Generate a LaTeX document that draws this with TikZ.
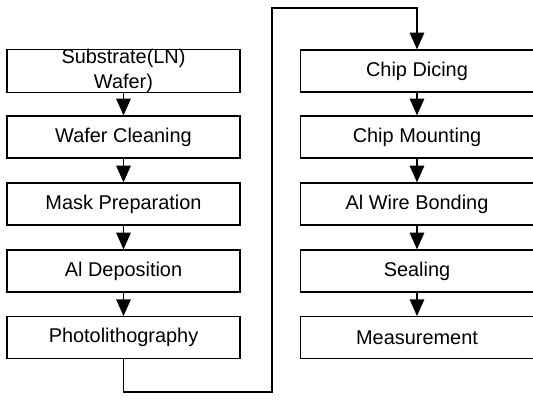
\documentclass[tikz,border=0pt]{standalone}
\usepackage{fontspec}
\setmainfont{Liberation Sans}
\usetikzlibrary{arrows.meta}

\begin{document}
\begin{tikzpicture}
        \useasboundingbox (0,0) rectangle (15.99,12.15);
        \tikzset{
            stepbox/.style={draw, line width=1pt, minimum width=6.99cm, minimum height=1.26cm, inner sep=0pt,
                align=center, font=\fontsize{17}{21}\selectfont},
            flow/.style={line width=1.5pt, -{Triangle[length=0.5cm, width=0.43cm]}}
        }

        % Left column
        \node[stepbox] (sub) at (3.705,10.02) {Substrate(LN)\\Wafer)};
        \node[stepbox] (clean) at (3.705,8.04) {Wafer Cleaning};
        \node[stepbox] (mask) at (3.705,6.03) {Mask Preparation};
        \node[stepbox] (dep) at (3.705,4.02) {Al Deposition};
        \node[stepbox] (photo) at (3.705,2.02) {Photolithography};

        % Right column
        \node[stepbox] (dice) at (12.51,10.02) {Chip Dicing};
        \node[stepbox] (mount) at (12.51,8.04) {Chip Mounting};
        \node[stepbox] (bond) at (12.51,6.03) {Al Wire Bonding};
        \node[stepbox] (seal) at (12.51,4.02) {Sealing};
        \node[stepbox] (meas) at (12.51,2.02) {Measurement};

        % Arrows
        \draw[flow] (sub) -- (clean);
        \draw[flow] (clean) -- (mask);
        \draw[flow] (mask) -- (dep);
        \draw[flow] (dep) -- (photo);
        \draw[flow] (dice) -- (mount);
        \draw[flow] (mount) -- (bond);
        \draw[flow] (bond) -- (seal);
        \draw[flow] (seal) -- (meas);

        % Link between columns
        \coordinate (lowc) at (8.16,0.39);
        \coordinate (topc) at (8.16,11.91);
        \draw[flow] (photo.south) |- (lowc) -- (topc) -| (dice.north);
    \end{tikzpicture}
\end{document}
